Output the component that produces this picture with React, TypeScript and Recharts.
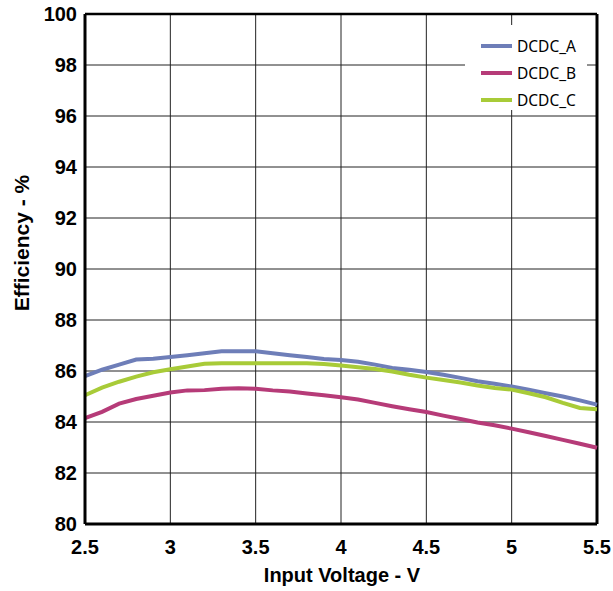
import { LineChart, Line, XAxis, YAxis, CartesianGrid, ReferenceLine } from "recharts";

const voltages = [
  2.5, 2.6, 2.7, 2.8, 2.9, 3.0, 3.1, 3.2, 3.3, 3.4, 3.5, 3.6, 3.7, 3.8, 3.9, 4.0,
  4.1, 4.2, 4.3, 4.4, 4.5, 4.6, 4.7, 4.8, 4.9, 5.0, 5.1, 5.2, 5.3, 5.4, 5.5,
];

const dcdcA = [
  85.8, 86.05, 86.25, 86.45, 86.48, 86.55, 86.62, 86.7, 86.77, 86.77, 86.77, 86.7, 86.62, 86.55, 86.47, 86.43,
  86.36, 86.25, 86.12, 86.05, 85.96, 85.85, 85.73, 85.6, 85.5, 85.39, 85.27, 85.13, 85.0, 84.85, 84.68,
];

const dcdcB = [
  84.15, 84.4, 84.72, 84.9, 85.03, 85.16, 85.24, 85.25, 85.3, 85.32, 85.3, 85.24, 85.2, 85.12, 85.05, 84.97,
  84.88, 84.75, 84.62, 84.5, 84.39, 84.25, 84.12, 83.98, 83.87, 83.74, 83.6, 83.45, 83.3, 83.15, 82.99,
];

const dcdcC = [
  85.05, 85.35, 85.58, 85.78, 85.95, 86.07, 86.18, 86.28, 86.3, 86.3, 86.3, 86.3, 86.3, 86.3, 86.27, 86.22,
  86.15, 86.08, 85.98, 85.85, 85.74, 85.65, 85.55, 85.43, 85.33, 85.27, 85.13, 84.97, 84.75, 84.55, 84.5,
];

const xTicks = [2.5, 3, 3.5, 4, 4.5, 5, 5.5];
const yTicks = [80, 82, 84, 86, 88, 90, 92, 94, 96, 98, 100];

const series = [
  { key: "DCDC_A", values: dcdcA, color: "#6e7eb8" },
  { key: "DCDC_B", values: dcdcB, color: "#b63b78" },
  { key: "DCDC_C", values: dcdcC, color: "#a8cb38" },
];

const data = voltages.map((v, i) => {
  const row: Record<string, number> = { v };
  series.forEach((s) => {
    row[s.key] = s.values[i];
  });
  return row;
});

const boldFont = { fontFamily: "'Liberation Sans', Arial, sans-serif", fontWeight: 700, fill: "#000" };

// legend sits inside the plot, top right, on a white box over the grid
function LegendBox() {
  return (
    <div
      style={{
        position: "absolute",
        left: 465,
        top: 25,
        width: 122,
        height: 85,
        background: "#fff",
        paddingTop: 8,
        boxSizing: "border-box",
      }}
    >
      {series.map((s) => (
        <div key={s.key} style={{ display: "flex", alignItems: "center", height: 26.7 }}>
          <svg width={52} height={6}>
            <line x1={16} y1={3} x2={47} y2={3} stroke={s.color} strokeWidth={4} />
          </svg>
          <span style={{ fontFamily: "'Noto Sans', sans-serif", fontSize: 15.5, color: "#000" }}>{s.key}</span>
        </div>
      ))}
    </div>
  );
}

export default function App() {
  return (
    <div style={{ position: "absolute", left: 0, top: 0, width: 613, height: 591, background: "#fff" }}>
      <LineChart width={613} height={591} data={data} margin={{ top: 14, right: 16, left: 0, bottom: 0 }}>
        <CartesianGrid stroke="#222" strokeWidth={1} verticalValues={xTicks} horizontalValues={yTicks} />
        <XAxis
          dataKey="v"
          type="number"
          domain={[2.5, 5.5]}
          ticks={xTicks}
          height={67}
          tickLine={false}
          tickSize={0}
          tickMargin={16}
          axisLine={{ stroke: "#000", strokeWidth: 3 }}
          tick={{ ...boldFont, fontSize: 20 }}
          label={() => (
            <text x={342} y={582} textAnchor="middle" style={{ ...boldFont, fontSize: 20 }}>
              Input Voltage - V
            </text>
          )}
        />
        <YAxis
          type="number"
          domain={[80, 100]}
          ticks={yTicks}
          width={85}
          tickLine={false}
          tickSize={0}
          tickMargin={8}
          axisLine={{ stroke: "#000", strokeWidth: 3 }}
          tick={{ ...boldFont, fontSize: 20 }}
          label={() => (
            <text x={28.5} y={243} transform="rotate(-90 28.5 243)" textAnchor="middle" style={{ ...boldFont, fontSize: 21 }}>
              Efficiency - %
            </text>
          )}
        />
        <ReferenceLine y={100} stroke="#000" strokeWidth={2.5} />
        <ReferenceLine x={5.5} stroke="#000" strokeWidth={3} />
        {series.map((s) => (
          <Line
            key={s.key}
            type="linear"
            dataKey={s.key}
            stroke={s.color}
            strokeWidth={4}
            dot={false}
            isAnimationActive={false}
          />
        ))}
      </LineChart>
      <LegendBox />
    </div>
  );
}
